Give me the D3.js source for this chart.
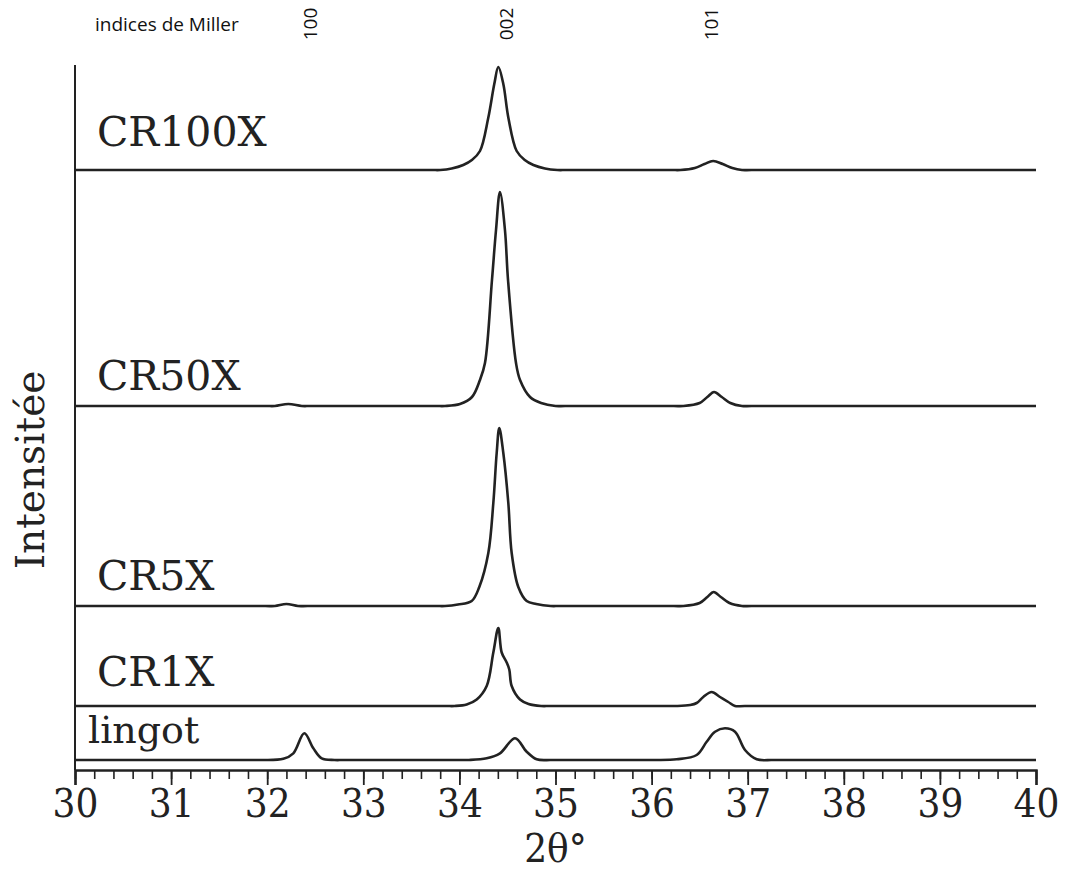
<!DOCTYPE html>
<html>
<head>
<meta charset="utf-8">
<script src="https://cdn.jsdelivr.net/npm/d3@7"></script>
<style>
  html, body { margin: 0; padding: 0; background: #fff; }
  svg { display: block; }
</style>
</head>
<body>
<svg id="chart" width="1070" height="872"></svg>
<script>
// ---------------- DATA ----------------
const samples = ["lingot", "CR1X", "CR5X", "CR50X", "CR100X"];
const offsets = [10, 64, 164, 364, 600];   // vertical stacking offset (a.u.)

const lingotTheta = [30, 31.85, 31.95, 32.168, 32.272, 32.386, 32.48, 32.567, 32.70, 32.80, 34.00, 34.10, 34.284, 34.422, 34.579, 34.70, 34.804, 34.95, 35.05, 35.95, 36.05, 36.261, 36.469, 36.573, 36.66, 36.764, 36.868, 36.972, 37.094, 37.25, 37.35, 40];
const lingotI     = [0, 0, 0, 1.2, 6.7, 26.7, 11.7, 1.7, 0, 0, 0, 0, 1.7, 6.7, 21.7, 8.3, 0.7, 0, 0, 0, 0, 0.7, 5, 18.3, 28.3, 31.7, 28.3, 10, 0.7, 0, 0, 0];

const cr1Theta = [30, 33.85, 33.95, 34.076, 34.18, 34.284, 34.353, 34.405, 34.44, 34.492, 34.519, 34.544, 34.631, 34.72, 34.85, 34.95, 36.16, 36.26, 36.40, 36.469, 36.538, 36.625, 36.712, 36.798, 36.868, 36.97, 40];
const cr1I     = [0, 0, 0, 1.5, 6.5, 20, 53.5, 78, 53.5, 43.5, 36.5, 20, 6.5, 2, 0, 0, 0, 0, 1, 3, 9, 14, 9, 4, 0, 0, 0];

const cr5Theta = [30, 31.98, 32.08, 32.20, 32.32, 32.42, 33.75, 33.85, 33.985, 34.128, 34.207, 34.301, 34.353, 34.388, 34.415, 34.457, 34.509, 34.544, 34.613, 34.70, 34.80, 34.95, 35.05, 36.23, 36.33, 36.50, 36.58, 36.645, 36.72, 36.81, 36.94, 37.04, 40];
const cr5I     = [0, 0, 0, 2, 0, 0, 0, 0, 1.5, 5, 19, 53, 103, 153, 178, 153, 103, 53, 19, 5, 2, 0, 0, 0, 0, 3, 9, 14, 9, 3, 0, 0, 0];

const cr50Theta = [30, 31.98, 32.08, 32.22, 32.36, 32.46, 33.75, 33.85, 34.006, 34.131, 34.214, 34.266, 34.339, 34.381, 34.422, 34.474, 34.506, 34.589, 34.631, 34.735, 34.85, 35.00, 35.10, 36.23, 36.33, 36.50, 36.58, 36.65, 36.73, 36.82, 36.94, 37.04, 40];
const cr50I     = [0, 0, 0, 2, 0, 0, 0, 0, 2, 9, 26, 43, 126, 176, 214, 176, 126, 43, 26, 9, 3, 0, 0, 0, 0, 3, 9, 14, 9, 3, 0, 0, 0];

const cr100Theta = [30, 33.70, 33.80, 33.92, 34.04, 34.13, 34.214, 34.30, 34.363, 34.405, 34.457, 34.51, 34.596, 34.68, 34.77, 34.89, 35.02, 35.12, 36.20, 36.30, 36.45, 36.55, 36.64, 36.74, 36.84, 36.94, 37.04, 40];
const cr100I     = [0, 0, 0, 1.5, 5, 10, 19, 52, 86, 103, 86, 52, 19, 10, 5, 1.5, 0, 0, 0, 0, 2, 6, 9, 6, 2, 0, 0, 0];

const thetaSeries = [lingotTheta, cr1Theta, cr5Theta, cr50Theta, cr100Theta];
const intensitySeries = [lingotI, cr1I, cr5I, cr50I, cr100I];

const xTicks = [30, 31, 32, 33, 34, 35, 36, 37, 38, 39, 40];
const millerLabels = ["100", "002", "101"];
const millerTheta = [32.45, 34.48, 36.62];

// ---------------- DRAW ----------------
const svg = d3.select("#chart");
const x = d3.scaleLinear().domain([30, 40]).range([75, 1036]);
const y = d3.scaleLinear().domain([0, 705]).range([770, 65]);
const ink = "#222";
const serifCond = "'DejaVu Serif Condensed', 'DejaVu Serif', serif";

// y axis line (no ticks)
svg.append("line")
  .attr("x1", x(30)).attr("x2", x(30))
  .attr("y1", y(705)).attr("y2", y(0))
  .attr("stroke", ink).attr("stroke-width", 2);

// x axis: minor ticks
const gx = svg.append("g").attr("transform", `translate(0,${y(0)})`);
gx.call(d3.axisBottom(x).tickValues(d3.range(0, 51).map(i => 30 + i * 0.2)).tickSize(9).tickFormat(""))
  .call(g => g.select(".domain").remove())
  .call(g => g.selectAll(".tick line").attr("stroke", ink).attr("stroke-width", 1.6));
// major ticks and labels
const gx2 = svg.append("g").attr("transform", `translate(0,${y(0)})`);
gx2.call(d3.axisBottom(x).tickValues(xTicks).tickSize(15).tickPadding(4).tickFormat(d3.format("d")))
  .attr("font-family", null)
  .call(g => g.select(".domain").attr("stroke", ink).attr("stroke-width", 2.4))
  .call(g => g.selectAll(".tick line").attr("stroke", ink).attr("stroke-width", 1.8))
  .call(g => g.selectAll(".tick text")
     .attr("font-family", serifCond)
     .attr("font-stretch", "condensed")
     .attr("font-size", 40).attr("fill", ink).attr("dy", null).attr("y", 47));

// x axis title
svg.append("text")
  .attr("x", x(35)).attr("y", 862)
  .attr("text-anchor", "middle")
  .attr("font-family", serifCond)
  .attr("font-stretch", "condensed")
  .attr("font-size", 40).attr("fill", ink)
  .text("2θ°");

// y axis title
svg.append("text")
  .attr("transform", "translate(44,470) rotate(-90)")
  .attr("text-anchor", "middle")
  .attr("font-family", "'DejaVu Serif', serif")
  .attr("font-size", 39).attr("fill", ink)
  .text("Intensitée");

// traces
const line = d3.line().curve(d3.curveCatmullRom.alpha(0.5));
samples.forEach((s, i) => {
  const pts = thetaSeries[i].map((t, k) => [x(t), y(offsets[i] + intensitySeries[i][k])]);
  svg.append("path")
    .attr("d", line(pts))
    .attr("fill", "none")
    .attr("stroke", ink)
    .attr("stroke-width", 2.6)
    .attr("stroke-linejoin", "round");
});

// sample labels
const labelBaselines = [743, 686, 590, 390, 146];
const labelX = [88, 97, 97, 97, 97];
const labelSize = [38, 41, 41, 41, 41];
samples.forEach((s, i) => {
  svg.append("text")
    .attr("x", labelX[i]).attr("y", labelBaselines[i])
    .attr("font-family", "'DejaVu Serif', serif")
    .attr("font-size", labelSize[i]).attr("fill", ink)
    .text(s);
});

// Miller indices header
svg.append("text")
  .attr("x", 95).attr("y", 31)
  .attr("font-family", "'Open Sans', 'Liberation Sans', sans-serif")
  .attr("font-size", 19).attr("fill", "#111")
  .text("indices de Miller");
millerLabels.forEach((m, i) => {
  svg.append("text")
    .attr("transform", `translate(${x(millerTheta[i]) + 7},24) rotate(-90)`)
    .attr("text-anchor", "middle")
    .attr("font-family", "'Open Sans', 'Liberation Sans', sans-serif")
    .attr("font-size", 19).attr("fill", "#111")
    .text(m);
});
</script>
</body>
</html>
